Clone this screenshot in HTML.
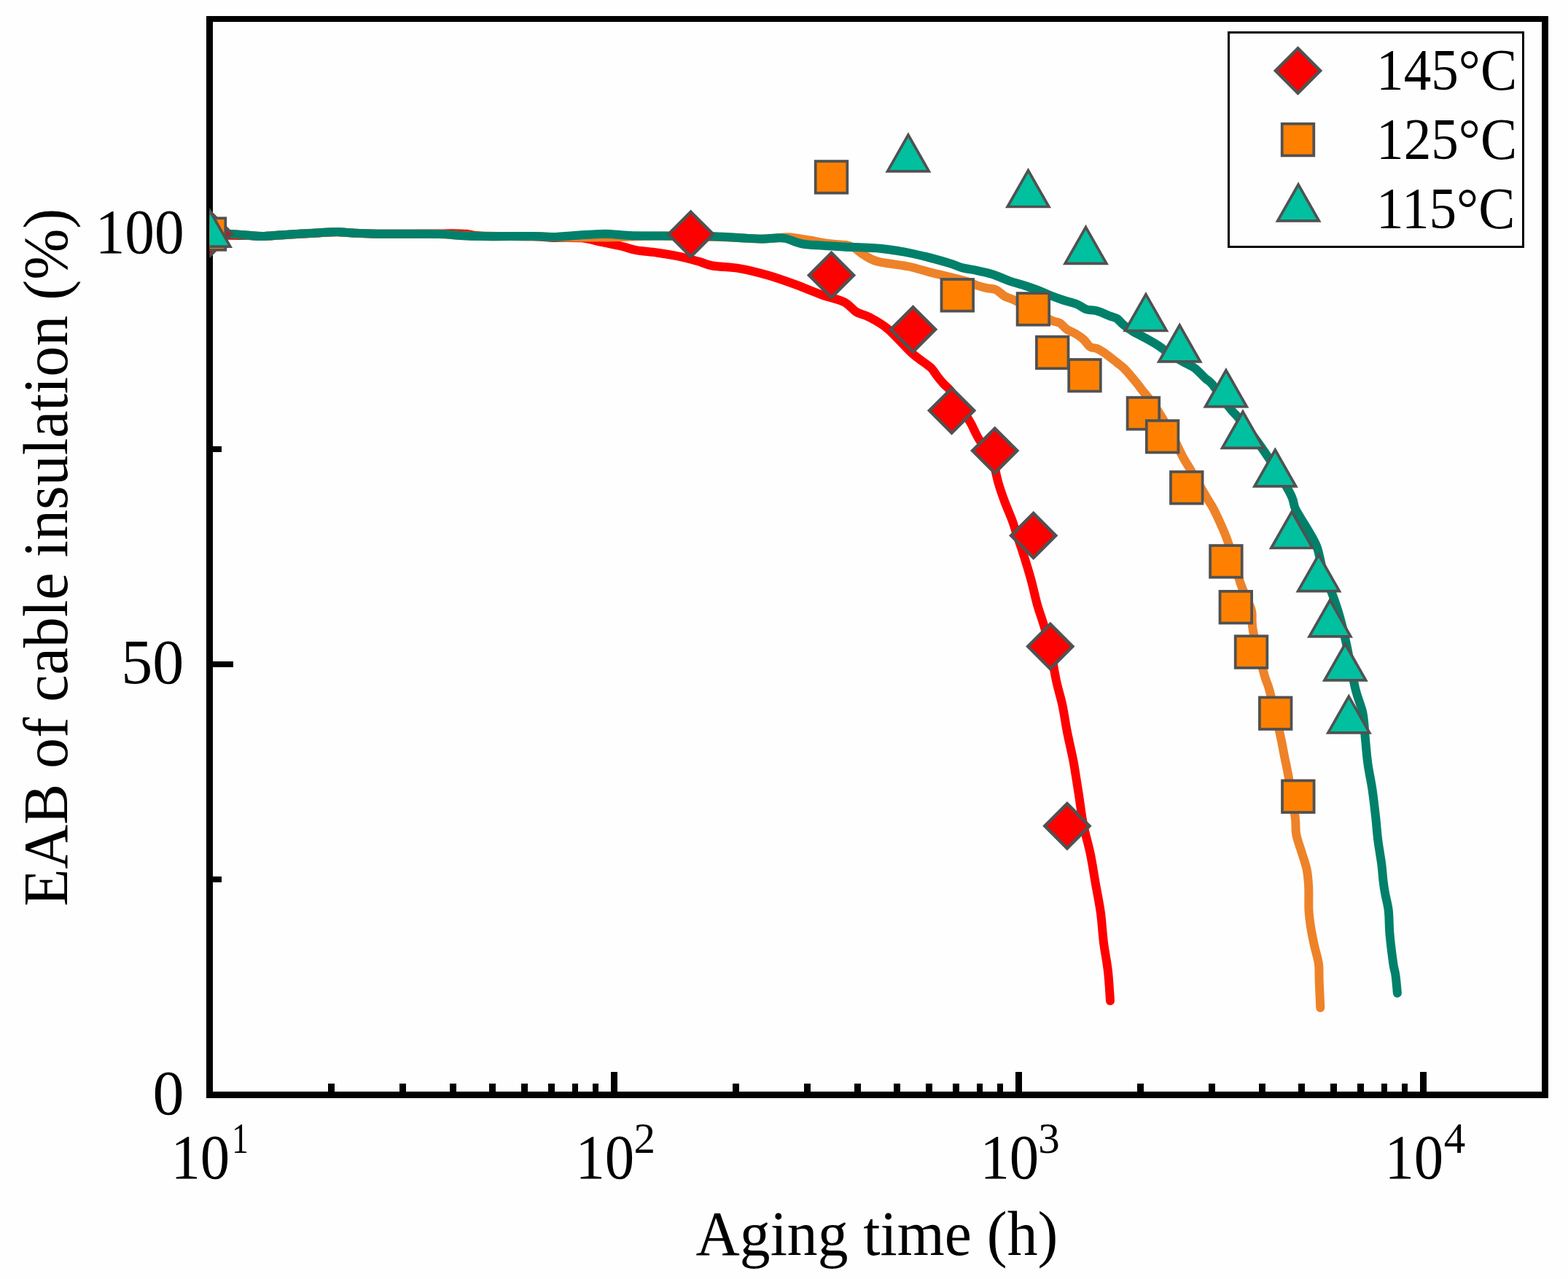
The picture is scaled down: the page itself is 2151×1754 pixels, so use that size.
<!DOCTYPE html>
<html><head><meta charset="utf-8"><title>EAB of cable insulation vs aging time</title>
<style>html,body{margin:0;padding:0;background:#fff;}svg{display:block;}</style>
</head><body>
<svg width="2151" height="1754" viewBox="0 0 2151 1754">
<rect x="0" y="0" width="2151" height="1754" fill="#fefefe"/>
<defs><clipPath id="pa"><rect x="287.5" y="26" width="1832" height="1475.2"/></clipPath></defs>
<g stroke="#000" stroke-width="8.4" fill="none" shape-rendering="crispEdges">
<line x1="842.5" y1="1501.2" x2="842.5" y2="1469.7"/>
<line x1="1397.5" y1="1501.2" x2="1397.5" y2="1469.7"/>
<line x1="1952.5" y1="1501.2" x2="1952.5" y2="1469.7"/>
<line x1="454.572" y1="1501.2" x2="454.572" y2="1485.7"/>
<line x1="552.302" y1="1501.2" x2="552.302" y2="1485.7"/>
<line x1="621.643" y1="1501.2" x2="621.643" y2="1485.7"/>
<line x1="675.428" y1="1501.2" x2="675.428" y2="1485.7"/>
<line x1="719.374" y1="1501.2" x2="719.374" y2="1485.7"/>
<line x1="756.529" y1="1501.2" x2="756.529" y2="1485.7"/>
<line x1="788.715" y1="1501.2" x2="788.715" y2="1485.7"/>
<line x1="817.105" y1="1501.2" x2="817.105" y2="1485.7"/>
<line x1="1009.572" y1="1501.2" x2="1009.572" y2="1485.7"/>
<line x1="1107.302" y1="1501.2" x2="1107.302" y2="1485.7"/>
<line x1="1176.643" y1="1501.2" x2="1176.643" y2="1485.7"/>
<line x1="1230.428" y1="1501.2" x2="1230.428" y2="1485.7"/>
<line x1="1274.374" y1="1501.2" x2="1274.374" y2="1485.7"/>
<line x1="1311.529" y1="1501.2" x2="1311.529" y2="1485.7"/>
<line x1="1343.715" y1="1501.2" x2="1343.715" y2="1485.7"/>
<line x1="1372.105" y1="1501.2" x2="1372.105" y2="1485.7"/>
<line x1="1564.572" y1="1501.2" x2="1564.572" y2="1485.7"/>
<line x1="1662.302" y1="1501.2" x2="1662.302" y2="1485.7"/>
<line x1="1731.643" y1="1501.2" x2="1731.643" y2="1485.7"/>
<line x1="1785.428" y1="1501.2" x2="1785.428" y2="1485.7"/>
<line x1="1829.374" y1="1501.2" x2="1829.374" y2="1485.7"/>
<line x1="1866.529" y1="1501.2" x2="1866.529" y2="1485.7"/>
<line x1="1898.715" y1="1501.2" x2="1898.715" y2="1485.7"/>
<line x1="1927.105" y1="1501.2" x2="1927.105" y2="1485.7"/>
<line x1="2119.572" y1="1501.2" x2="2119.572" y2="1485.7"/>
<line x1="287.5" y1="911" x2="320" y2="911"/>
<line x1="287.5" y1="320.8" x2="320" y2="320.8"/>
<line x1="287.5" y1="1206.1" x2="304" y2="1206.1"/>
<line x1="287.5" y1="615.9" x2="304" y2="615.9"/>
</g>
<g fill="#000" shape-rendering="crispEdges">
<rect x="283" y="22" width="9" height="1484"/>
<rect x="2115" y="22" width="9" height="1484"/>
<rect x="283" y="22" width="1841" height="8"/>
<rect x="283" y="1497" width="1841" height="9"/>
</g>
<g clip-path="url(#pa)">
<g fill="none" stroke-width="12" stroke-linejoin="round" stroke-linecap="round">
<path stroke="#ff0000" d="M288 321.5C292.5 321.717 306.333 322.55 315 322.8C323.667 323.05 332.167 322.8 340 323C347.833 323.2 352 324.25 362 324C372 323.75 388.333 322.2 400 321.5C411.667 320.8 421.667 320.35 432 319.8C442.333 319.25 453 318.217 462 318.2C471 318.183 475.167 319.267 486 319.7C496.833 320.133 508 320.667 527 320.8C546 320.933 584.5 320.6 600 320.5C615.5 320.4 613.333 320.15 620 320.2C626.667 320.25 633.333 320.25 640 320.8C646.667 321.35 645 322.917 660 323.5C675 324.083 713.333 323.9 730 324.3C746.667 324.7 748.667 325.55 760 325.9C771.333 326.25 787 325.35 798 326.4C809 327.45 816.667 330.267 826 332.2C835.333 334.133 846.167 336.167 854 338C861.833 339.833 865.167 341.783 873 343.2C880.833 344.617 891.667 345.167 901 346.5C910.333 347.833 921.667 349.783 929 351.2C936.333 352.617 939.833 353.7 945 355C950.167 356.3 954.567 357.417 960 359C965.433 360.583 968.4 362.95 977.6 364.5C986.8 366.05 1002.683 366.167 1015.2 368.3C1027.717 370.433 1040.183 373.7 1052.7 377.3C1065.217 380.9 1077.767 385.367 1090.3 389.9C1102.833 394.433 1116.65 400.467 1127.9 404.5C1139.15 408.533 1149.95 410.183 1157.8 414.1C1165.65 418.017 1169.25 424.533 1175 428C1180.75 431.467 1185.1 431.017 1192.3 434.9C1199.5 438.783 1208.567 443.2 1218.2 451.3C1227.833 459.4 1241.033 475.267 1250.1 483.5C1259.167 491.733 1267.817 496.933 1272.6 500.7C1277.383 504.467 1276.683 503.667 1278.8 506.1C1280.917 508.533 1282.683 511.917 1285.3 515.3C1287.917 518.683 1291.433 523.017 1294.5 526.4C1297.567 529.783 1299.783 530.333 1303.7 535.6C1307.617 540.867 1313.383 550.633 1318 558C1322.617 565.367 1328.4 574.633 1331.4 579.8C1334.4 584.967 1334.467 585.933 1336 589C1337.533 592.067 1339.067 595.433 1340.6 598.2C1342.133 600.967 1342.633 602.3 1345.2 605.6C1347.767 608.9 1353.033 613.1 1356 618C1358.967 622.9 1360.783 627.767 1363 635C1365.217 642.233 1366.8 652.667 1369.3 661.4C1371.8 670.133 1374.817 678.75 1378 687.4C1381.183 696.05 1385.517 705.467 1388.4 713.3C1391.283 721.133 1392.717 726.617 1395.3 734.4C1397.883 742.183 1400.733 749.967 1403.9 760C1407.067 770.033 1411.133 783.083 1414.3 794.6C1417.467 806.117 1420.167 819.317 1422.9 829.1C1425.633 838.883 1427.85 843.817 1430.7 853.3C1433.55 862.783 1436.967 872.733 1440 886C1443.033 899.267 1445.983 919.333 1448.9 932.9C1451.817 946.467 1455.05 955.883 1457.5 967.4C1459.95 978.917 1461.35 990.467 1463.6 1002C1465.85 1013.533 1469.333 1028.6 1471 1036.6C1472.667 1044.6 1472.1 1041.05 1473.6 1050C1475.1 1058.95 1477.917 1076.867 1480 1090.3C1482.083 1103.733 1483.467 1117.15 1486.1 1130.6C1488.733 1144.05 1493.017 1157.55 1495.8 1171C1498.583 1184.45 1500.45 1197.867 1502.8 1211.3C1505.15 1224.733 1508.05 1238.167 1509.9 1251.6C1511.75 1265.033 1512.217 1278.45 1513.9 1291.9C1515.583 1305.35 1518.483 1318.85 1520 1332.3C1521.517 1345.75 1522.5 1365.883 1523 1372.6"/>
<path stroke="#ee8228" d="M288 321C292.533 321.017 306.75 320.833 315.2 321.1C323.65 321.367 330.867 322.117 338.7 322.6C346.533 323.083 352.417 324.2 362.2 324C371.983 323.8 385.65 322.133 397.4 321.4C409.15 320.667 421.933 320.183 432.7 319.6C443.467 319.017 453.2 317.9 462 317.9C470.8 317.9 474.733 319.117 485.5 319.6C496.267 320.083 507.15 320.583 526.6 320.8C546.05 321.017 585.683 320.6 602.2 320.9C618.717 321.2 615.917 322.067 625.7 322.6C635.483 323.133 643.283 323.85 660.9 324.1C678.517 324.35 714.883 323.933 731.4 324.1C747.917 324.267 752.733 324.867 760 325.1C767.267 325.333 770.333 325.433 775 325.5C779.667 325.567 778 325.5 788 325.5C798 325.5 822.5 325.667 835 325.5C847.5 325.333 852.167 324.833 863 324.5C873.833 324.167 883.833 323.55 900 323.5C916.167 323.45 943.333 323.867 960 324.2C976.667 324.533 986 324.95 1000 325.5C1014 326.05 1033.167 327.333 1044 327.5C1054.833 327.667 1058.667 326.867 1065 326.5C1071.333 326.133 1074.45 324.8 1082 325.3C1089.55 325.8 1100.883 328.017 1110.3 329.5C1119.717 330.983 1130.217 333.117 1138.5 334.2C1146.783 335.283 1154.417 335.033 1160 336C1165.583 336.967 1167.967 337.833 1172 340C1176.033 342.167 1179.033 345.933 1184.2 349C1189.367 352.067 1193.6 355.817 1203 358.4C1212.4 360.983 1232.3 363.067 1240.6 364.5C1248.9 365.933 1246.533 365.417 1252.8 367C1259.067 368.583 1272.433 372.483 1278.2 374C1283.967 375.517 1281.133 374.6 1287.4 376.1C1293.667 377.6 1309.317 381.35 1315.8 383C1322.283 384.65 1322.367 384.65 1326.3 386C1330.233 387.35 1335.017 389.633 1339.4 391.1C1343.783 392.567 1348.217 393.8 1352.6 394.8C1356.983 395.8 1362.417 395.95 1365.7 397.1C1368.983 398.25 1370.1 400.117 1372.3 401.7C1374.5 403.283 1375.617 404.9 1378.9 406.6C1382.183 408.3 1385.15 408.5 1392 411.9C1398.85 415.3 1411.7 422.45 1420 427C1428.3 431.55 1436.167 436.55 1441.8 439.2C1447.433 441.85 1450.267 440.9 1453.8 442.9C1457.333 444.9 1459.15 448.6 1463 451.2C1466.85 453.8 1472.9 456.033 1476.9 458.5C1480.9 460.967 1483.933 463.15 1487 466C1490.067 468.85 1492.383 473.617 1495.3 475.6C1498.217 477.583 1501.433 476.667 1504.5 477.9C1507.567 479.133 1510.617 481 1513.7 483C1516.783 485 1519.917 487.533 1523 489.9C1526.083 492.267 1529.133 494.75 1532.2 497.2C1535.267 499.65 1538.333 501.683 1541.4 504.6C1544.467 507.517 1547.533 511.167 1550.6 514.7C1553.667 518.233 1557.033 522.333 1559.8 525.8C1562.567 529.267 1563.033 530.167 1567.2 535.5C1571.367 540.833 1578.417 548.333 1584.8 557.8C1591.183 567.267 1599.167 580.783 1605.5 592.3C1611.833 603.817 1618.183 618.25 1622.8 626.9C1627.417 635.55 1627.9 635.183 1633.2 644.2C1638.5 653.217 1649.317 672 1654.6 681C1659.883 690 1661.167 691 1664.9 698.2C1668.633 705.4 1673.533 716.133 1677 724.2C1680.467 732.267 1681.667 734.217 1685.7 746.6C1689.733 758.983 1696.6 784.967 1701.2 798.5C1705.8 812.033 1710.6 820.883 1713.3 827.8C1716 834.717 1716.433 833.65 1717.4 840C1718.367 846.35 1716.217 851.5 1719.1 865.9C1721.983 880.3 1730.95 912.867 1734.7 926.4C1738.45 939.933 1738.15 934.133 1741.6 947.1C1745.05 960.067 1751.95 988.933 1755.4 1004.2C1758.85 1019.467 1760.283 1028.633 1762.3 1038.7C1764.317 1048.767 1765.117 1051.05 1767.5 1064.6C1769.883 1078.15 1774.817 1106.733 1776.6 1120C1778.383 1133.267 1776.717 1136.133 1778.2 1144.2C1779.683 1152.267 1783.083 1160.333 1785.5 1168.4C1787.917 1176.467 1791.083 1184.533 1792.7 1192.6C1794.317 1200.667 1794.733 1207.4 1795.2 1216.8C1795.667 1226.2 1794.967 1239.6 1795.5 1249C1796.033 1258.4 1797.117 1265.133 1798.4 1273.2C1799.683 1281.267 1801.45 1289.333 1803.2 1297.4C1804.95 1305.467 1807.817 1313.533 1808.9 1321.6C1809.983 1329.667 1809.3 1335.733 1809.7 1345.8C1810.1 1355.867 1811.033 1375.967 1811.3 1382"/>
<path stroke="#00806a" d="M288 321C292.533 321.017 306.75 320.833 315.2 321.1C323.65 321.367 330.867 322.117 338.7 322.6C346.533 323.083 352.417 324.2 362.2 324C371.983 323.8 385.65 322.133 397.4 321.4C409.15 320.667 421.933 320.183 432.7 319.6C443.467 319.017 453.2 317.9 462 317.9C470.8 317.9 474.733 319.117 485.5 319.6C496.267 320.083 507.15 320.583 526.6 320.8C546.05 321.017 585.683 320.6 602.2 320.9C618.717 321.2 615.917 322.067 625.7 322.6C635.483 323.133 643.283 323.85 660.9 324.1C678.517 324.35 714.883 323.933 731.4 324.1C747.917 324.267 750.533 325.283 760 325.1C769.467 324.917 776.617 323.733 788.2 323C799.783 322.267 816.983 320.7 829.5 320.7C842.017 320.7 849.833 322.533 863.3 323C876.767 323.467 891.05 323.3 910.3 323.5C929.55 323.7 961.117 323.733 978.8 324.2C996.483 324.667 1005.45 325.717 1016.4 326.3C1027.35 326.883 1036.683 327.667 1044.5 327.7C1052.317 327.733 1057.817 326.617 1063.3 326.5C1068.783 326.383 1071.133 325.667 1077.4 327C1083.667 328.333 1092.283 332.867 1100.9 334.5C1109.517 336.133 1119.7 336.133 1129.1 336.8C1138.5 337.467 1143.883 337.8 1157.3 338.5C1170.717 339.2 1193.683 339.417 1209.6 341C1225.517 342.583 1237.733 344.8 1252.8 348C1267.867 351.2 1288.85 357.017 1300 360.2C1311.15 363.383 1313.133 365.333 1319.7 367.1C1326.267 368.867 1332.817 369.417 1339.4 370.8C1345.983 372.183 1353.717 373.817 1359.2 375.4C1364.683 376.983 1367.917 378.6 1372.3 380.3C1376.683 382 1380.017 383.733 1385.5 385.6C1390.983 387.467 1398.633 389.367 1405.2 391.5C1411.767 393.633 1418.8 396.067 1424.9 398.4C1431 400.733 1436.217 403.317 1441.8 405.5C1447.383 407.683 1452.55 409.583 1458.4 411.5C1464.25 413.417 1471.517 414.85 1476.9 417C1482.283 419.15 1486.1 422.85 1490.7 424.4C1495.3 425.95 1499.117 424.767 1504.5 426.3C1509.883 427.833 1518.383 431.833 1523 433.6C1527.617 435.367 1529.133 434.9 1532.2 436.9C1535.267 438.9 1537.6 442.583 1541.4 445.6C1545.2 448.617 1550.233 452.1 1555 455C1559.767 457.9 1564.433 459.9 1570 463C1575.567 466.1 1583.4 470.433 1588.4 473.6C1593.4 476.767 1596.067 479.267 1600 482C1603.933 484.733 1607.783 487.417 1612 490C1616.217 492.583 1620.783 495 1625.3 497.5C1629.817 500 1634.483 501.533 1639.1 505C1643.717 508.467 1649.15 514.767 1653 518.3C1656.85 521.833 1658.367 521.75 1662.2 526.2C1666.033 530.65 1671.4 538.867 1676 545C1680.6 551.133 1685.967 558.333 1689.8 563C1693.633 567.667 1694.5 567.733 1699 573C1703.5 578.267 1709.8 585.25 1716.8 594.6C1723.8 603.95 1732.083 615.283 1741 629.1C1749.917 642.917 1764.267 665.983 1770.3 677.5C1776.333 689.017 1773.45 690.417 1777.2 698.2C1780.95 705.983 1787.9 715.55 1792.8 724.2C1797.7 732.85 1802.85 740.033 1806.6 750.1C1810.35 760.167 1811.833 773.95 1815.3 784.6C1818.767 795.25 1823.667 803.917 1827.4 814C1831.133 824.083 1834.433 833.567 1837.7 845.1C1840.967 856.633 1843.433 866.767 1847 883.2C1850.567 899.633 1855.35 927.867 1859.1 943.7C1862.85 959.533 1867.2 966.683 1869.5 978.2C1871.8 989.717 1871.75 1001.267 1872.9 1012.8C1874.05 1024.333 1874.817 1035.883 1876.4 1047.4C1877.983 1058.917 1880.617 1069.8 1882.4 1081.9C1884.183 1094 1885.783 1108.267 1887.1 1120C1888.417 1131.733 1888.95 1141.55 1890.3 1152.3C1891.65 1163.05 1893.983 1175.1 1895.2 1184.5C1896.417 1193.9 1896.8 1201.983 1897.6 1208.7C1898.4 1215.417 1898.8 1218.083 1900 1224.8C1901.2 1231.517 1903.717 1239.583 1904.8 1249C1905.883 1258.417 1905.417 1269.2 1906.5 1281.3C1907.583 1293.4 1909.967 1312.2 1911.3 1321.6C1912.633 1331 1913.567 1330.967 1914.5 1337.7C1915.433 1344.433 1916.5 1357.95 1916.9 1362"/>
</g>
<g stroke="#515151" stroke-width="3.5" stroke-linejoin="miter">
<g fill="#ff0000" stroke-width="4.4">
<path d="M287.5 289.9L318.1 320.5L287.5 351.1L256.9 320.5Z"/>
<path d="M947.7 290.7L978.3 321.3L947.7 351.9L917.1 321.3Z"/>
<path d="M1140.5 346.8L1171.1 377.4L1140.5 408L1109.9 377.4Z"/>
<path d="M1252.6 421.2L1283.2 451.8L1252.6 482.4L1222 451.8Z"/>
<path d="M1305.6 532.5L1336.2 563.1L1305.6 593.7L1275 563.1Z"/>
<path d="M1364.7 587.5L1395.3 618.1L1364.7 648.7L1334.1 618.1Z"/>
<path d="M1417.7 703.8L1448.3 734.4L1417.7 765L1387.1 734.4Z"/>
<path d="M1440.8 855.9L1471.4 886.5L1440.8 917.1L1410.2 886.5Z"/>
<path d="M1463.9 1102.1L1494.5 1132.7L1463.9 1163.3L1433.3 1132.7Z"/>
</g><g fill="#ff8000" stroke-width="3.75">
<rect x="265.7" y="299.2" width="43.6" height="43.6"/>
<rect x="1118.7" y="221.1" width="43.6" height="43.6"/>
<rect x="1291.5" y="383" width="43.6" height="43.6"/>
<rect x="1395.6" y="402.1" width="43.6" height="43.6"/>
<rect x="1421.9" y="461.7" width="43.6" height="43.6"/>
<rect x="1466.2" y="493" width="43.6" height="43.6"/>
<rect x="1546.6" y="545.1" width="43.6" height="43.6"/>
<rect x="1572.8" y="576.9" width="43.6" height="43.6"/>
<rect x="1606" y="647" width="43.6" height="43.6"/>
<rect x="1660.1" y="748.1" width="43.6" height="43.6"/>
<rect x="1673.5" y="810.9" width="43.6" height="43.6"/>
<rect x="1694.7" y="872.3" width="43.6" height="43.6"/>
<rect x="1727.9" y="956.4" width="43.6" height="43.6"/>
<rect x="1759" y="1070.5" width="43.6" height="43.6"/>
</g><g fill="#00c0a0" stroke-width="3.7">
<path d="M287.5 288.3L315.85 338.1L259.15 338.1Z"/>
<path d="M1245.9 185L1274.25 234.8L1217.55 234.8Z"/>
<path d="M1410.5 233.7L1438.85 283.5L1382.15 283.5Z"/>
<path d="M1489.5 311.6L1517.85 361.4L1461.15 361.4Z"/>
<path d="M1571.9 403.7L1600.25 453.5L1543.55 453.5Z"/>
<path d="M1618.2 446L1646.55 495.8L1589.85 495.8Z"/>
<path d="M1681.9 507.8L1710.25 557.6L1653.55 557.6Z"/>
<path d="M1705 564.6L1733.35 614.4L1676.65 614.4Z"/>
<path d="M1749.3 617L1777.65 666.8L1720.95 666.8Z"/>
<path d="M1772.2 701.7L1800.55 751.5L1743.85 751.5Z"/>
<path d="M1809 760.9L1837.35 810.7L1780.65 810.7Z"/>
<path d="M1824.5 823L1852.85 872.8L1796.15 872.8Z"/>
<path d="M1845.3 883L1873.65 932.8L1816.95 932.8Z"/>
<path d="M1850.3 955.1L1878.65 1004.9L1821.95 1004.9Z"/>
</g></g>
</g>
<g font-family="'Liberation Serif', 'Times New Roman', serif" fill="#000">
<text x="252.5" y="1528.3" font-size="86" text-anchor="end">0</text>
<text x="252.3" y="937.2" font-size="86" text-anchor="end">50</text>
<text transform="translate(130.657 347.3) scale(0.945 1)" font-size="86">100</text>
<text transform="translate(234.395 1615.6) scale(0.94 1)" font-size="86">10</text>
<text transform="translate(317.955 1581.2) scale(0.78 1)" font-size="59">1</text>
<text transform="translate(789.395 1615.6) scale(0.94 1)" font-size="86">10</text>
<text x="869.407" y="1581.2" font-size="59">2</text>
<text transform="translate(1344.395 1615.6) scale(0.94 1)" font-size="86">10</text>
<text x="1424.177" y="1581.2" font-size="59">3</text>
<text transform="translate(1899.395 1615.6) scale(0.94 1)" font-size="86">10</text>
<text x="1980.848" y="1581.2" font-size="59">4</text>
<text transform="translate(954.484 1720.9) scale(0.972 1)" font-size="86">Aging time (h)</text>
<g transform="translate(92 1240.7) rotate(-90)">
<text transform="translate(-2.423 0) scale(0.978 1)" font-size="86">EAB of cable insulation (%)</text>
</g>
</g>
<rect x="1685.5" y="44.5" width="404" height="294" fill="#fefefe" stroke="#000" stroke-width="3" shape-rendering="crispEdges"/>
<g stroke="#515151" stroke-width="3.5">
<g fill="#ff0000" stroke-width="4.4"><path d="M1780.5 66.4L1811.1 97L1780.5 127.6L1749.9 97Z"/></g>
<g fill="#ff8000" stroke-width="3.75"><rect x="1758.7" y="169.8" width="43.6" height="43.6"/></g>
<g fill="#00c0a0" stroke-width="3.7"><path d="M1781.05 253.05L1809.4 302.85L1752.7 302.85Z"/></g>
</g>
<g font-family="'Liberation Serif', 'Times New Roman', serif" fill="#000">
<text transform="translate(1888.091 122.8) scale(0.94 1)" font-size="80">145°C</text>
<text transform="translate(1888.091 217.9) scale(0.94 1)" font-size="80">125°C</text>
<text transform="translate(1888.091 312.6) scale(0.94 1)" font-size="80">115°C</text>
</g>
</svg></body></html>
